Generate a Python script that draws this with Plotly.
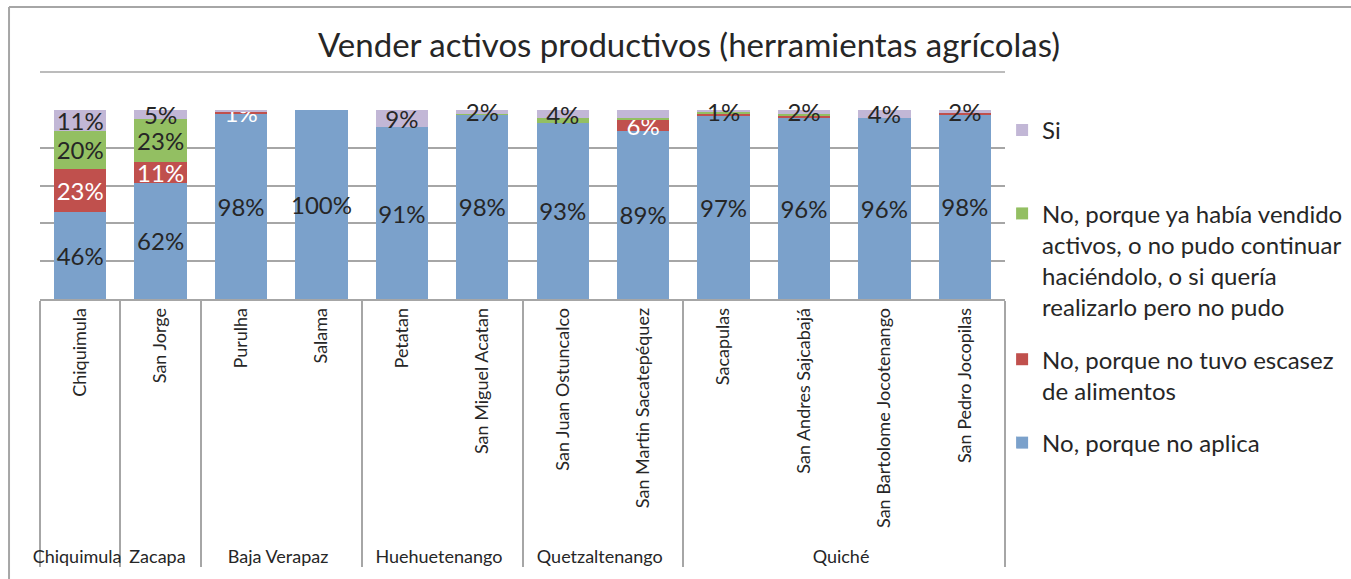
import plotly.graph_objects as go

# ---- data ----
municipios = ["Chiquimula", "San Jorge", "Purulha", "Salama", "Petatan", "San Miguel Acatan",
              "San Juan Ostuncalco", "San Martin Sacatepéquez", "Sacapulas",
              "San Andres Sajcabajá", "San Bartolome Jocotenango", "San Pedro Jocopilas"]
departamentos = ["Chiquimula", "Zacapa", "Baja Verapaz", "Baja Verapaz", "Huehuetenango",
                 "Huehuetenango", "Quetzaltenango", "Quetzaltenango", "Quiché", "Quiché",
                 "Quiché", "Quiché"]

no_aplica = [46, 61.6, 98, 100, 91, 97.6, 93.2, 89, 97, 96, 96, 97.7]
no_escasez = [23, 10.8, 1, 0, 0, 0, 0, 6, 1, 1, 0, 0.5]
no_vendido = [20, 22.8, 0, 0, 0, 0.4, 2.6, 1, 1, 1, 0, 0]
si = [11, 4.8, 1, 0, 9, 2, 4.2, 4, 1, 2, 4, 1.8]

# which data labels are printed on the chart
show_aplica = [True] * 12
show_escasez = [True, True, True, False, False, False, False, True, False, False, False, False]
show_vendido = [True, True, False, False, False, False, False, False, False, False, False, False]
show_si = [True, True, False, False, True, True, True, False, True, True, True, True]

series = [
    ("No, porque no aplica", no_aplica, show_aplica, "#7ba1cb", "#262626", 4),
    ("No, porque no tuvo escasez<br>de alimentos", no_escasez, show_escasez, "#c0504d", "#ffffff", 3),
    ("No, porque ya había vendido<br>activos, o no pudo continuar<br>haciéndolo, o si quería<br>realizarlo pero no pudo",
     no_vendido, show_vendido, "#93bf62", "#262626", 2),
    ("Si<br> ", si, show_si, "#c2b7d6", "#262626", 1),
]

FONT = "Lato, 'Open Sans', sans-serif"

fig = go.Figure()
for i, (name, vals, show, color, tcolor, rank) in enumerate(series):
    fig.add_trace(go.Bar(
        x=[departamentos, municipios], y=vals, name=name,
        marker=dict(color=color, line=dict(width=0)),
        text=[f"{v:.0f}%" if s else "" for v, s in zip(vals, show)],
        textposition="inside", insidetextanchor="middle", textangle=0,
        textfont=dict(color=tcolor, size=24, family=FONT),
        cliponaxis=False, legendgroup=f"g{i}", legendrank=rank,
    ))

GRID = "#a6a6a6"
fig.update_layout(
    width=1351, height=579,
    barmode="stack", bargap=0.35,
    paper_bgcolor="white", plot_bgcolor="white",
    margin=dict(l=40, r=346, t=110, b=280, autoexpand=False),
    font=dict(family=FONT, color="#262626"),
    title=dict(text="Vender activos productivos (herramientas agrícolas)",
               x=0.51, xanchor="center", y=0.922, yanchor="middle",
               font=dict(size=33, family=FONT, color="#262626")),
    uniformtext=dict(mode="show", minsize=24),
    showlegend=True,
    legend=dict(x=0.997, xanchor="left", y=1.011, yanchor="top",
                traceorder="grouped", tracegroupgap=18, valign="top",
                font=dict(size=24, family=FONT, color="#262626"),
                maxheight=460, bgcolor="rgba(0,0,0,0)"),
    xaxis=dict(type="multicategory", tickangle=-90, showgrid=False,
               showline=True, linecolor=GRID, linewidth=1.5,
               ticks="", showdividers=True, dividercolor=GRID, dividerwidth=1.5,
               tickfont=dict(size=18, family=FONT, color="#262626")),
    yaxis=dict(range=[0, 100.05], showticklabels=False, showgrid=True,
               gridcolor=GRID, gridwidth=1.5, tick0=0, dtick=20, zeroline=False, ticks=""),
)

# chart frame decorations (outer border and the line under the title)
fig.add_shape(type="line", xref="paper", yref="paper", x0=-0.0321, x1=-0.0321,
              y0=-1.6, y1=1.545, line=dict(color=GRID, width=2))
fig.add_shape(type="line", xref="paper", yref="paper", x0=-0.0321, x1=1.4,
              y0=1.545, y1=1.545, line=dict(color=GRID, width=2))
fig.add_shape(type="line", xref="paper", yref="paper", x0=0, x1=1,
              y0=1.201, y1=1.201, line=dict(color=GRID, width=1.5))

fig.write_html("out.html", config={"displayModeBar": False},
               post_script="document.body.style.margin='0';")
